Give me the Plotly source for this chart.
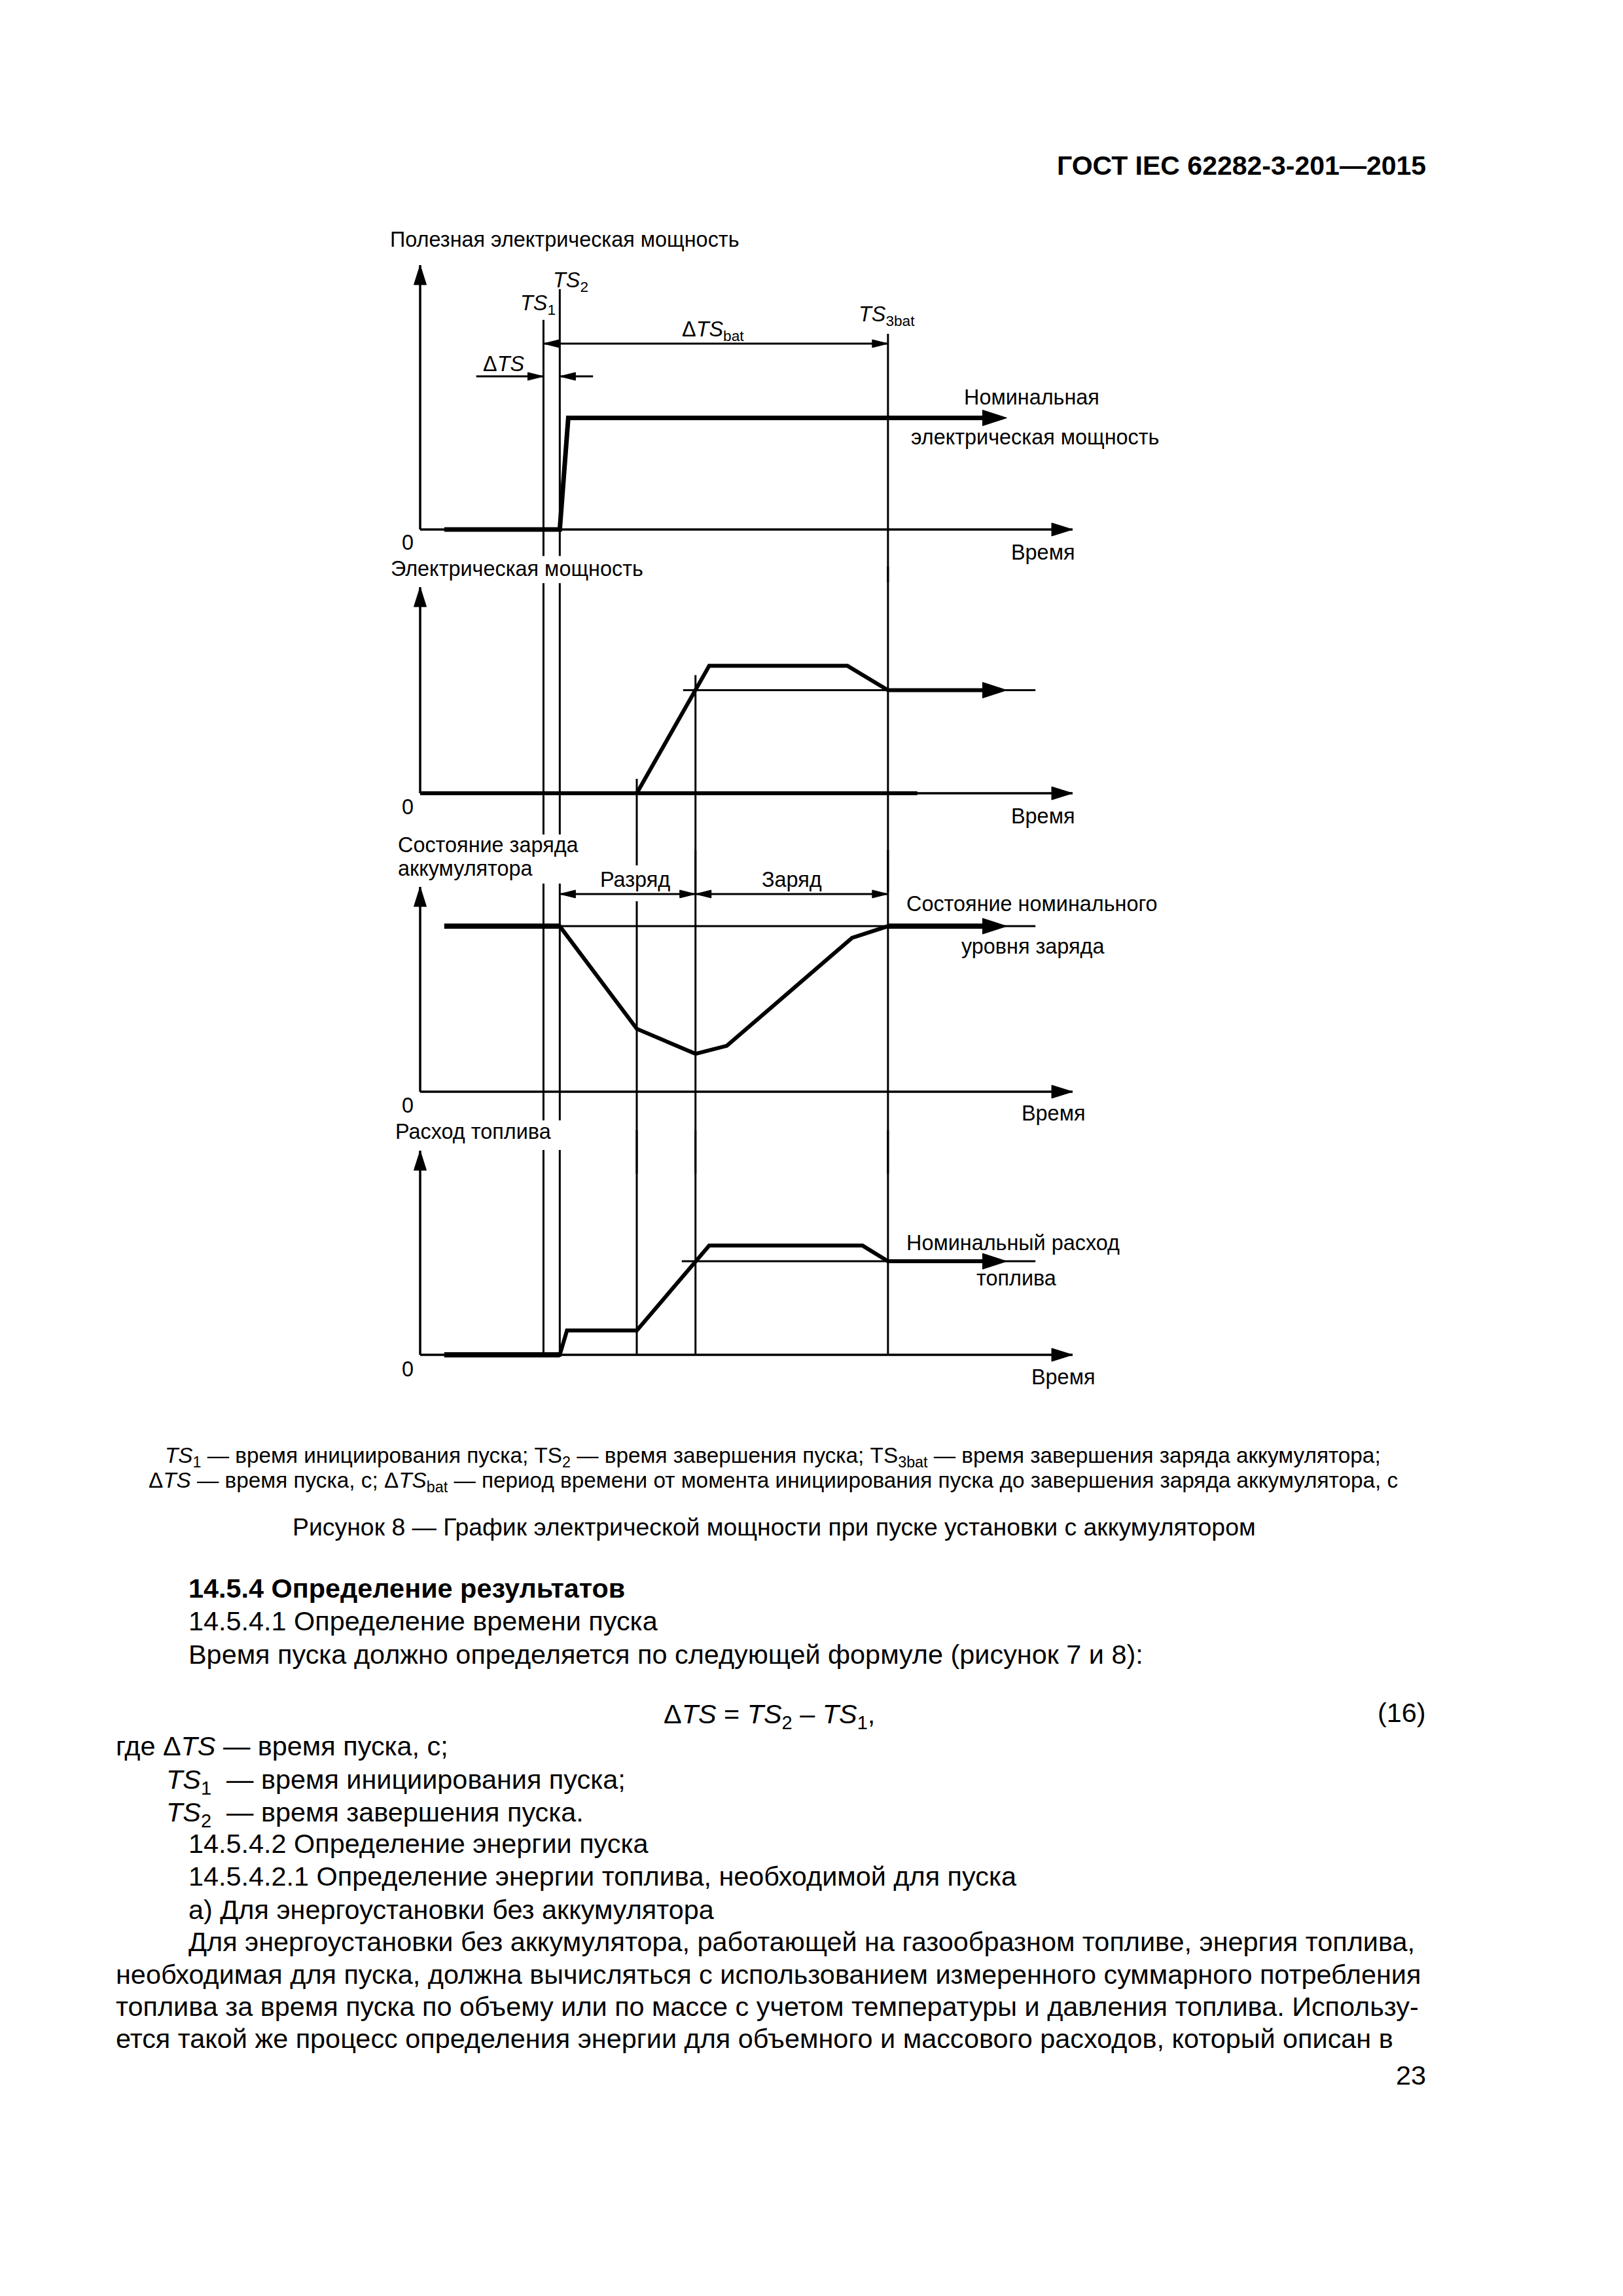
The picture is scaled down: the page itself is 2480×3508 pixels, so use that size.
import plotly.graph_objects as go

W, H = 2480, 3508
FONT = "Liberation Sans, Arial, sans-serif"
OFF = 8   # page body margin of the HTML page; all pixel positions are shifted by it

# ---------------- data (time axis 0..100, level axis 0..100 per panel) -------------
marker_names = ["TS1", "TS2", "tA", "tB", "TS3bat"]
marker_t = [18.9, 21.4, 33.2, 42.2, 71.7]

p1_t = [3.7, 21.4, 22.7, 86.2]
p1_v = [0, 0, 42.2, 42.2]

p2_t = [33.2, 44.3, 65.5, 71.7, 86.2]
p2_v = [0, 61.8, 61.8, 50.0, 50.0]
p2_ref_t = [40.3, 94.3]
p2_ref_v = [50.0, 50.0]
p2_base_t = [0, 76.2]
p2_base_v = [0, 0]

p3_t = [3.7, 21.4, 33.2, 42.2, 47.0, 66.2, 71.7, 86.2]
p3_v = [80.8, 80.8, 30.7, 18.5, 22.4, 75.1, 80.8, 80.8]
p3_ref_t = [21.4, 94.3]
p3_ref_v = [80.8, 80.8]

p4_t = [3.7, 21.4, 22.5, 33.2, 44.3, 67.8, 71.7, 86.2]
p4_v = [0, 0, 11.9, 11.9, 53.5, 53.5, 45.8, 45.8]
p4_ref_t = [40.1, 94.3]
p4_ref_v = [45.8, 45.8]

# dimension arrows: panel, from, to, level, both heads?
dim_panel = [1, 1, 1, 3, 3]
dim_from = [18.9, 8.6, 26.5, 21.4, 42.2]
dim_to = [71.7, 18.9, 21.4, 42.2, 71.7]
dim_level = [70.3, 57.9, 57.9, 96.5, 96.5]
dim_both = [True, False, False, True, True]

# vertical marker segments per panel: (marker index, top level, bottom level)
vsegs = {
    1: [(0, 79.3, -10), (1, 90.9, -10), (4, 74.0, -20)],
    2: [(0, 101.9, -20), (1, 101.9, -20), (2, 7.0, -35), (3, 57.3, -48), (4, 110, -48)],
    3: [(0, 101.6, -14), (1, 101.6, -14), (2, 93.0, -40), (3, 118, -40), (4, 118, -40)],
    4: [(0, 100.3, 0), (1, 100.3, 0), (2, 110, 0), (3, 110, 0), (4, 110, 0)],
}

# ---------------- geometry ----------------
X0, X1 = 642 - OFF, 1639 - OFF          # pixel of t=0 and t=100
T_LO, T_HI = -8, 120
panels = {
    1: dict(base=809, top=405, lo=-25, hi=118),
    2: dict(base=1212, top=897, lo=-50, hi=118),
    3: dict(base=1668, top=1355, lo=-45, hi=125),
    4: dict(base=2070, top=1758, lo=-5, hi=118),
}

def tpx(t):
    return X0 + t * (X1 - X0) / 100.0

fig = go.Figure()
layout = dict(width=W, height=H, margin=dict(l=0, r=0, t=0, b=0, pad=0),
              paper_bgcolor="white", plot_bgcolor="rgba(0,0,0,0)",
              showlegend=False)

for i, p in panels.items():
    base = p["base"] - OFF
    unit = (p["base"] - p["top"]) / 100.0
    ybot = base - p["lo"] * unit
    ytop = base - p["hi"] * unit
    sfx = "" if i == 1 else str(i)
    layout["xaxis" + sfx] = dict(domain=[tpx(T_LO) / W, tpx(T_HI) / W], range=[T_LO, T_HI],
                                 visible=False, fixedrange=True, anchor="y" + sfx)
    layout["yaxis" + sfx] = dict(domain=[1 - ybot / H, 1 - ytop / H], range=[p["lo"], p["hi"]],
                                 visible=False, fixedrange=True, anchor="x" + sfx)

shapes = []

def refs(panel):
    s = "" if panel == 1 else str(panel)
    return "x" + s, "y" + s

def line(panel, x0, y0, x1, y1, w=3):
    xr, yr = refs(panel)
    shapes.append(dict(type="line", xref=xr, yref=yr, x0=x0, y0=y0, x1=x1, y1=y1,
                       line=dict(color="black", width=w)))

def head(panel, x, y, direction, L, Wd, at_tip=True):
    xr, yr = refs(panel)
    h = Wd / 2.0
    if direction == "right":
        path = f"M0,0 L{-L},{h} L{-L},{-h} Z" if at_tip else f"M{L},0 L0,{h} L0,{-h} Z"
    elif direction == "left":
        path = f"M0,0 L{L},{h} L{L},{-h} Z"
    else:  # up
        path = f"M0,0 L{-h},{-L} L{h},{-L} Z"
    shapes.append(dict(type="path", xref=xr, yref=yr, xsizemode="pixel", ysizemode="pixel",
                       xanchor=x, yanchor=y, path=path, fillcolor="black",
                       line=dict(color="black", width=1)))

def trace(panel, xs, ys, w):
    xr, yr = refs(panel)
    fig.add_trace(go.Scatter(x=xs, y=ys, mode="lines", xaxis=xr, yaxis=yr,
                             line=dict(color="black", width=w), hoverinfo="skip"))

# axes with arrows
for i in panels:
    line(i, 0, 0, 100, 0, 3.5)
    head(i, 100, 0, "right", 32, 20)
    line(i, 0, 0, 0, 100, 3.5)
    head(i, 0, 100, "up", 30, 19)

# vertical time markers
for i, segs in vsegs.items():
    for mi, top, bot in segs:
        line(i, marker_t[mi], top, marker_t[mi], bot, 3)

# dimension arrows
for pn, a, b, lv, both in zip(dim_panel, dim_from, dim_to, dim_level, dim_both):
    line(pn, a, lv, b, lv, 3)
    d = "right" if b > a else "left"
    head(pn, b, lv, d, 24, 12)
    if both:
        head(pn, a, lv, "left" if d == "right" else "right", 24, 12)

# curves
trace(1, p1_t, p1_v, 7)
head(1, p1_t[-1], p1_v[-1], "right", 37, 24, at_tip=False)

trace(2, p2_base_t, p2_base_v, 6)
trace(2, p2_ref_t, p2_ref_v, 3)
trace(2, p2_t, p2_v, 6)
head(2, p2_t[-1], p2_v[-1], "right", 37, 24, at_tip=False)

trace(3, p3_ref_t, p3_ref_v, 3)
trace(3, p3_t, p3_v, 6)
trace(3, p3_t[:2], p3_v[:2], 8)
trace(3, p3_t[-2:], p3_v[-2:], 8)
head(3, p3_t[-1], p3_v[-1], "right", 37, 24, at_tip=False)

trace(4, p4_ref_t, p4_ref_v, 3)
trace(4, p4_t, p4_v, 6)
trace(4, p4_t[:2], p4_v[:2], 8)
head(4, p4_t[-1], p4_v[-1], "right", 37, 24, at_tip=False)

# ---------------- text ----------------
ann = []

def txt(s, px, py, size, xanchor="left"):
    px -= OFF
    py -= OFF
    ann.append(dict(text=s, x=px / W, y=1 - py / H, xref="paper", yref="paper",
                    xanchor=xanchor, yanchor="middle", showarrow=False,
                    font=dict(family=FONT, size=size, color="black")))

DF = 32.4
txt("<b>ГОСТ IEC 62282-3-201—2015</b>", 2181, 253, 41, "right")

# panel 1
txt("Полезная электрическая мощность", 594, 366, DF)
txt("<i>TS</i><sub>2</sub>", 843, 430, DF)
txt("<i>TS</i><sub>1</sub>", 793, 466, DF)
txt("Δ<i>TS</i><sub>bat</sub>", 1040, 505, DF)
txt("<i>TS</i><sub>3bat</sub>", 1310, 483, DF)
txt("Δ<i>TS</i>", 736, 556, DF)
txt("Номинальная", 1471, 607, DF)
txt("электрическая мощность", 1390, 668, DF)
txt("0", 623, 829, DF, "center")
txt("Время", 1543, 844, DF)
# panel 2
txt("Электрическая мощность", 595, 869, DF)
txt("0", 623, 1233, DF, "center")
txt("Время", 1543, 1247, DF)
# panel 3
txt("Состояние заряда", 606, 1291, DF)
txt("аккумулятора", 606, 1327, DF)
txt("Разряд", 970, 1344, DF, "center")
txt("Заряд", 1210, 1344, DF, "center")
txt("Состояние номинального", 1383, 1381, DF)
txt("уровня заряда", 1467, 1446, DF)
txt("0", 623, 1689, DF, "center")
txt("Время", 1559, 1701, DF)
# panel 4
txt("Расход топлива", 602, 1729, DF)
txt("Номинальный расход", 1383, 1899, DF)
txt("топлива", 1490, 1953, DF)
txt("0", 623, 2092, DF, "center")
txt("Время", 1574, 2104, DF)

# captions
CF = 33.3
txt("<i>TS</i><sub>1</sub> — время инициирования пуска; TS<sub>2</sub> — время завершения пуска; "
    "TS<sub>3bat</sub> — время завершения заряда аккумулятора;", 1181, 2226, CF, "center")
txt("Δ<i>TS</i> — время пуска, с; Δ<i>TS</i><sub>bat</sub> — период времени от момента инициирования "
    "пуска до завершения заряда аккумулятора, с", 1181, 2264, CF, "center")
txt("Рисунок 8 — График электрической мощности при пуске установки с аккумулятором",
    1183, 2333, 37.4, "center")

BF = 41.4
body = [
    ("<b>14.5.4 Определение результатов</b>", 286, 2427),
    ("14.5.4.1 Определение времени пуска", 286, 2477),
    ("Время пуска должно определяется по следующей формуле (рисунок 7 и 8):", 286, 2528),
    ("Δ<i>TS</i> = <i>TS</i><sub>2</sub> – <i>TS</i><sub>1</sub>,", 1012, 2622),
    ("где Δ<i>TS</i> — время пуска, с;", 175, 2668),
    ("<i>TS</i><sub>1</sub>  — время инициирования пуска;", 252, 2722),
    ("<i>TS</i><sub>2</sub>  — время завершения пуска.", 252, 2772),
    ("14.5.4.2 Определение энергии пуска", 286, 2817),
    ("14.5.4.2.1 Определение энергии топлива, необходимой для пуска", 286, 2867),
    ("а) Для энергоустановки без аккумулятора", 286, 2918),
    ("Для энергоустановки без аккумулятора, работающей на газообразном топливе, энергия топлива,", 286, 2967),
    ("необходимая для пуска, должна вычисляться с использованием измеренного суммарного потребления", 175, 3017),
    ("топлива за время пуска по объему или по массе с учетом температуры и давления топлива. Использу-", 175, 3066),
    ("ется такой же процесс определения энергии для объемного и массового расходов, который описан в", 175, 3115),
]
for s, x, y in body:
    txt(s, x, y, BF)
txt("(16)", 2181, 2617, BF, "right")
txt("23", 2181, 3171, BF, "right")

layout["shapes"] = shapes
layout["annotations"] = ann
fig.update_layout(**layout)
fig.write_html("out.html")
